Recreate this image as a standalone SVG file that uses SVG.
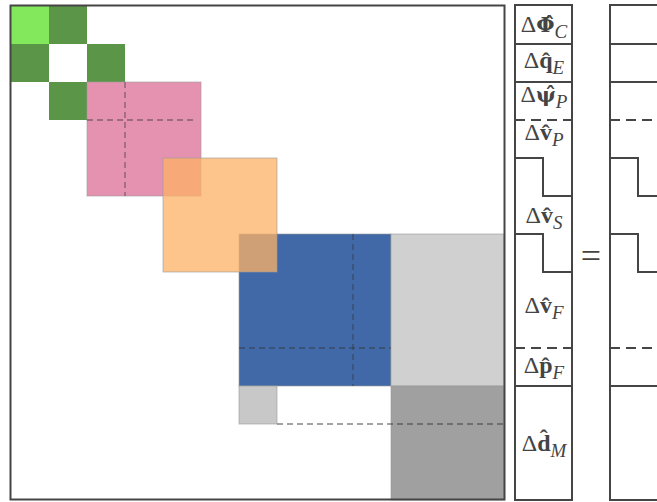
<svg xmlns="http://www.w3.org/2000/svg" width="657" height="502" viewBox="0 0 657 502">
<style>
.frame{fill:none;stroke:#454545;stroke-width:2}
.blk{stroke:#9a9a9a;stroke-opacity:0.6;stroke-width:1}
.dash{fill:none;stroke:#333;stroke-opacity:0.55;stroke-width:1.3;stroke-dasharray:6 4}
.vline{fill:none;stroke:#454545;stroke-width:2}
.vdash{fill:none;stroke:#454545;stroke-width:2;stroke-dasharray:10 6}
.lbl{font-family:"Liberation Serif","DejaVu Serif",serif;font-size:24px;fill:#444;text-anchor:middle}
.b{font-weight:bold}
.g{font-family:"DejaVu Serif",serif;font-weight:bold;font-size:21px}
.sub{font-style:italic;font-size:19px}
</style>
<rect width="657" height="502" fill="#fff"/>
<g id="matrix">
  <g id="green">
    <rect x="11" y="6" width="38" height="38" fill="#84e85c"/>
    <rect x="49" y="6" width="38" height="38" fill="#5b9548"/>
    <rect x="11" y="44" width="38" height="38" fill="#5b9548"/>
    <rect x="87" y="44" width="38" height="38" fill="#5b9548"/>
    <rect x="49" y="82" width="38" height="38" fill="#5b9548"/>
  </g>
  <g id="pink">
    <rect class="blk" x="87" y="82" width="114" height="114" fill="#e592b0"/>
    <line class="dash" x1="87" y1="120" x2="197" y2="120"/>
    <line class="dash" x1="125" y1="82" x2="125" y2="196"/>
  </g>
  <g id="blue">
    <rect class="blk" x="239" y="234" width="152" height="152" fill="#4169a8"/>
    <line class="dash" x1="239" y1="348" x2="391" y2="348"/>
    <line class="dash" x1="353" y1="234" x2="353" y2="386"/>
  </g>
  <g id="orange">
    <rect class="blk" x="163" y="158" width="114" height="114" fill="rgb(252,177,102)" fill-opacity="0.76"/>
  </g>
  <g id="gray-right">
    <rect class="blk" x="391" y="234" width="113" height="152" fill="#d0d0d0"/>
  </g>
  <g id="gray-small">
    <rect class="blk" x="239" y="386" width="38" height="38" fill="#c8c8c8"/>
  </g>
  <g id="gray-dark">
    <rect class="blk" x="391" y="386" width="113" height="114" fill="#a0a0a0"/>
  </g>
  <line class="dash" x1="277" y1="424" x2="504" y2="424" style="stroke-opacity:0.6"/>
  <rect class="frame" x="10.5" y="5.5" width="494" height="494"/>
</g>
<g id="vector">
  <rect class="vline" x="515" y="5" width="57" height="495"/>
  <line class="vline" x1="515" y1="44" x2="572" y2="44"/>
  <line class="vline" x1="515" y1="82" x2="572" y2="82"/>
  <line class="vdash" x1="515" y1="120" x2="572" y2="120"/>
  <path class="vline" d="M515,158 H543 V196 H572"/>
  <path class="vline" d="M515,234 H543 V272 H572"/>
  <line class="vdash" x1="515" y1="348" x2="572" y2="348"/>
  <line class="vline" x1="515" y1="386" x2="572" y2="386"/>
  <text class="lbl" x="544" y="32">Δ<tspan class="g">Φ̂</tspan><tspan class="sub" dy="6">C</tspan></text>
  <text class="lbl" x="544" y="68">Δ<tspan class="b">q̂</tspan><tspan class="sub" dy="6">E</tspan></text>
  <text class="lbl" x="544" y="102">Δ<tspan class="g">ψ̂</tspan><tspan class="sub" dy="6">P</tspan></text>
  <text class="lbl" x="544" y="140">Δ<tspan class="b">v̂</tspan><tspan class="sub" dy="6">P</tspan></text>
  <text class="lbl" x="544" y="223">Δ<tspan class="b">v̂</tspan><tspan class="sub" dy="6">S</tspan></text>
  <text class="lbl" x="544" y="313">Δ<tspan class="b">v̂</tspan><tspan class="sub" dy="6">F</tspan></text>
  <text class="lbl" x="544" y="373">Δ<tspan class="b">p̂</tspan><tspan class="sub" dy="6">F</tspan></text>
  <text class="lbl" x="544" y="451">Δ<tspan class="b">d̂</tspan><tspan class="sub" dy="6">M</tspan></text>
</g>
<g id="equals">
  <text x="591" y="268" style="font-family:'Liberation Serif','DejaVu Serif',serif;font-size:36px;fill:#444;text-anchor:middle">=</text>
</g>
<g id="rhs">
  <rect class="vline" x="610" y="5" width="60" height="495"/>
  <line class="vline" x1="610" y1="44" x2="657" y2="44"/>
  <line class="vline" x1="610" y1="82" x2="657" y2="82"/>
  <line class="vdash" x1="610" y1="120" x2="657" y2="120"/>
  <path class="vline" d="M610,158 H638 V196 H657"/>
  <path class="vline" d="M610,234 H638 V272 H657"/>
  <line class="vdash" x1="610" y1="348" x2="657" y2="348"/>
  <line class="vline" x1="610" y1="386" x2="657" y2="386"/>
</g>
</svg>
